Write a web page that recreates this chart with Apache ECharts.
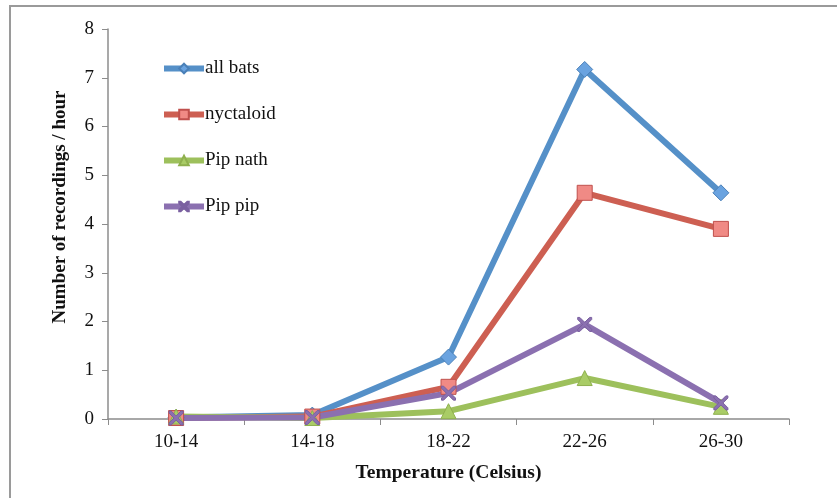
<!DOCTYPE html>
<html>
<head>
<meta charset="utf-8">
<script src="https://cdn.jsdelivr.net/npm/echarts@6/dist/echarts.min.js"></script>
<style>
  html, body { margin: 0; padding: 0; background: #fff; }
  #chart { width: 837px; height: 498px; }
</style>
</head>
<body>
<div id="chart"></div>
<script>
// Bat activity by temperature band
const categories = ['10-14', '14-18', '18-22', '22-26', '26-30'];
const allBats   = [0.03, 0.08, 1.27, 7.17, 4.64];
const nyctaloid = [0.02, 0.05, 0.66, 4.64, 3.90];
const pipNath   = [0.05, 0.02, 0.16, 0.84, 0.25];
const pipPip    = [0.02, 0.03, 0.53, 1.94, 0.33];
const yTicks = { min: 0, max: 8, interval: 1 };

const serif = '"Liberation Serif", "DejaVu Serif", serif';
const crossPath = 'path://M0,0 L3,0 L10,7 L17,0 L20,0 L20,3 L13,10 L20,17 L20,20 L17,20 L10,13 L3,20 L0,20 L0,17 L7,10 L0,3 Z';

function lineSeries(name, data, color, symbol, fill, border, size) {
  return {
    name: name,
    type: 'line',
    data: data,
    symbol: symbol,
    symbolSize: size,
    lineStyle: { color: color, width: 6 },
    itemStyle: { color: fill, borderColor: border, borderWidth: 1 },
    emphasis: { disabled: true },
    animation: false
  };
}

const chart = echarts.init(document.getElementById('chart'));
chart.setOption({
  backgroundColor: '#fff',
  graphic: [{
    type: 'rect',
    shape: { x: 10, y: 6, width: 900, height: 600 },
    style: { fill: 'none', stroke: '#9a9a9a', lineWidth: 2 },
    silent: true
  }],
  grid: { left: 108, right: 48, top: 29, bottom: 79 },
  legend: {
    orient: 'vertical',
    left: 156,
    top: 54,
    itemWidth: 40,
    itemHeight: 12,
    itemGap: 27,
    lineStyle: { width: 6 },
    textStyle: { fontFamily: serif, fontSize: 19, color: '#111', padding: [0, 0, 0, -4] },
    data: ['all bats', 'nyctaloid', 'Pip nath', 'Pip pip']
  },
  xAxis: {
    type: 'category',
    data: categories,
    boundaryGap: true,
    name: 'Temperature (Celsius)',
    nameLocation: 'middle',
    nameGap: 44,
    nameTextStyle: { fontFamily: serif, fontSize: 19.5, fontWeight: 'bold', color: '#111' },
    axisLine: { lineStyle: { color: '#8c8c8c', width: 1.5 } },
    axisTick: { show: true, length: 6, lineStyle: { color: '#8c8c8c' } },
    axisLabel: { fontFamily: serif, fontSize: 19, color: '#111', margin: 14 },
    splitLine: { show: false }
  },
  yAxis: {
    type: 'value',
    min: yTicks.min,
    max: yTicks.max,
    interval: yTicks.interval,
    name: 'Number of recordings / hour',
    nameLocation: 'middle',
    nameGap: 38,
    nameRotate: 90,
    nameTextStyle: { fontFamily: serif, fontSize: 19, fontWeight: 'bold', color: '#111', padding: [0, 0, 0, 34] },
    axisLine: { show: true, lineStyle: { color: '#8c8c8c', width: 1.5 } },
    axisTick: { show: true, length: 6, lineStyle: { color: '#8c8c8c' } },
    axisLabel: { fontFamily: serif, fontSize: 19, color: '#111', margin: 14 },
    splitLine: { show: false }
  },
  series: [
    lineSeries('all bats', allBats, '#5590c8', 'diamond', '#6aa3e0', '#4a80b8', 16),
    lineSeries('nyctaloid', nyctaloid, '#cd5f52', 'rect', '#f08a85', '#c0504d', 15),
    lineSeries('Pip nath', pipNath, '#9dc05c', 'triangle', '#a9cc66', '#8fb04e', 15),
    lineSeries('Pip pip', pipPip, '#8b70b0', crossPath, '#8b70b0', '#7a60a0', 14)
  ]
});
</script>
</body>
</html>
